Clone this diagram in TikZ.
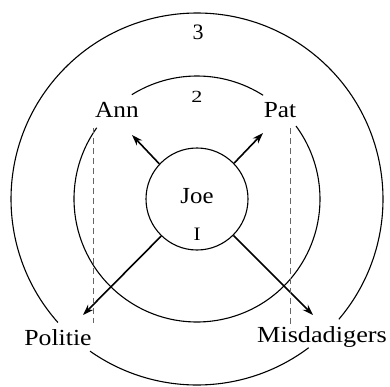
\documentclass[tikz,border=0pt]{standalone}
\usepackage{fontspec}
\setmainfont{Liberation Serif}
\usetikzlibrary{arrows.meta}
\newcommand{\wider}[2][1.14]{\scalebox{#1}[1]{#2}}
\begin{document}
\begin{tikzpicture}[x=1pt,y=1pt,
  ring/.style={line width=1.1pt},
  arr/.style={line width=1.6pt,-{Stealth[length=11pt,width=7.5pt]}},
  dash line/.style={gray!80!black,line width=0.8pt,dash pattern=on 6pt off 4pt},
  lab/.style={font=\fontsize{23}{27}\selectfont,inner sep=0pt},
  num/.style={font=\fontsize{22}{26}\selectfont,inner sep=0pt}]
\useasboundingbox (0,0) rectangle (390,386);
\coordinate (c) at (197,187);
% inner circle
\node[circle,draw,ring,minimum size=102pt,inner sep=0pt] (joe) at (c) {};
\node[lab] (joet) at (197,190) {\wider[1.08]{Joe}};
\node[num,font=\fontsize{19}{22}\selectfont] (one) at (197,152) {\wider[1.1]{I}};
% middle circle (with gaps)
\draw[ring] ([shift={(57.5:123)}]c) arc[start angle=57.5,end angle=122,radius=123];
\draw[ring] ([shift={(144.6:123)}]c) arc[start angle=144.6,end angle=396.4,radius=123];
% outer circle (with gaps)
\draw[ring] ([shift={(-40.3:186)}]c) arc[start angle=-40.3,end angle=221.6,radius=186];
\draw[ring] ([shift={(234.9:186)}]c) arc[start angle=234.9,end angle=306.9,radius=186];
% numbers
\node[num] (three) at (198,354) {3};
\node[num,font=\fontsize{17}{20}\selectfont] (two) at (197,289) {\wider[1.3]{2}};
% labels
\node[lab] (ann) at (117,276) {\wider[1.1]{Ann}};
\node[lab] (pat) at (280,276) {\wider[1.1]{Pat}};
\node[lab] (pol) at (58,48) {\wider[1.12]{Politie}};
\node[lab] (mis) at (322,49) {\wider[1.14]{Misdadigers}};
% arrow tips
\coordinate (tann) at (132,251);
\coordinate (tpat) at (263,253);
\coordinate (tpol) at (83,71);
\coordinate (tmis) at (313,71);
\draw[arr] (joe.137) -- (tann);
\draw[arr] (joe.44) -- (tpat);
\draw[arr] (joe.226) -- (tpol);
\draw[arr] (joe.-45) -- (tmis);
% dashed lines
\coordinate (d1a) at (93,258);
\coordinate (d1b) at (93,63);
\coordinate (d2a) at (290,258);
\coordinate (d2b) at (290,58);
\draw[dash line] (d1a) -- (d1b);
\draw[dash line] (d2a) -- (d2b);
\end{tikzpicture}
\end{document}
